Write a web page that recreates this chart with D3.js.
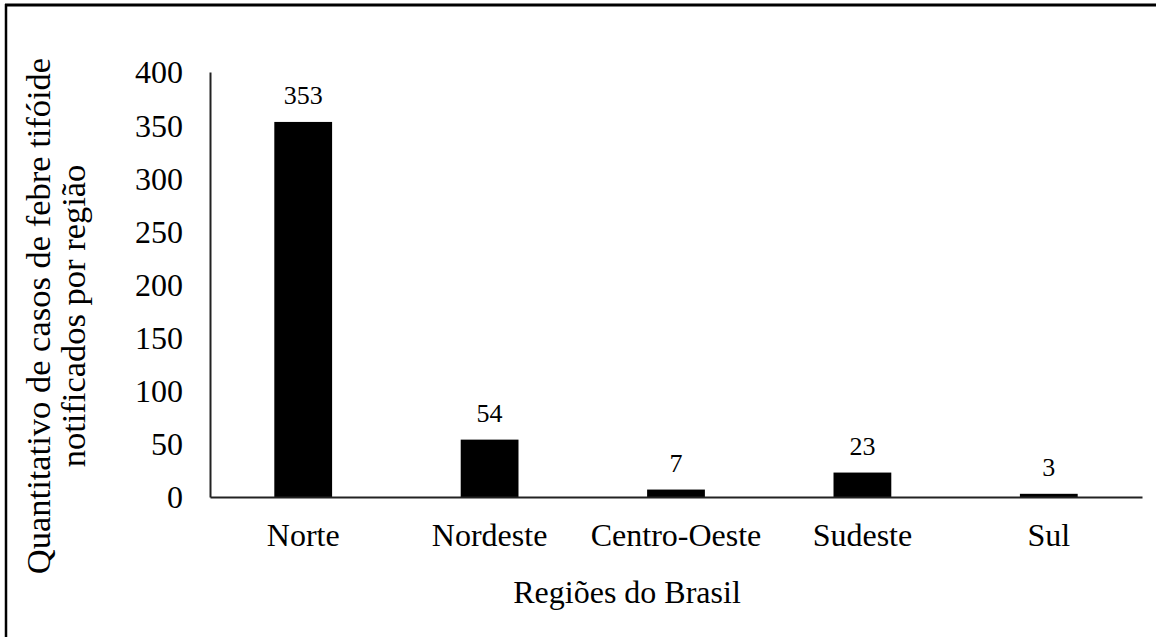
<!DOCTYPE html>
<html>
<head>
<meta charset="utf-8">
<script src="https://cdn.jsdelivr.net/npm/d3@7"></script>
<style>
  html, body { margin: 0; padding: 0; background: #fff; }
  svg text { font-family: "Liberation Serif", "Times New Roman", Times, Tinos, "DejaVu Serif", "Noto Serif", serif !important; fill: #000; }
</style>
</head>
<body>
<svg id="chart" width="1156" height="637"></svg>
<script>
// Notified typhoid fever cases by Brazilian region
const regions = ["Norte", "Nordeste", "Centro-Oeste", "Sudeste", "Sul"];
const cases = [353, 54, 7, 23, 3];
const yTicks = [0, 50, 100, 150, 200, 250, 300, 350, 400];
const yTitle = ["Quantitativo de casos de febre tifóide", "notificados por região"];
const xTitle = "Regiões do Brasil";

const svg = d3.select("#chart");
const W = 1156, H = 637;
const plot = { left: 210, right: 1142, top: 72, bottom: 497 };

// Figure frame (top and left rules)
svg.append("line").attr("x1", 5).attr("x2", W).attr("y1", 5).attr("y2", 5)
  .attr("stroke", "#000").attr("stroke-width", 3);
svg.append("line").attr("x1", 6).attr("x2", 6).attr("y1", 4).attr("y2", H)
  .attr("stroke", "#000").attr("stroke-width", 2.5);

const x = d3.scaleBand()
  .domain(regions)
  .range([plot.left, plot.right])
  .paddingInner(0.69)
  .paddingOuter(0.345);

const y = d3.scaleLinear()
  .domain([0, 400])
  .range([plot.bottom, plot.top]);

// Bars
svg.append("g").selectAll("rect")
  .data(regions)
  .join("rect")
  .attr("x", d => x(d))
  .attr("width", x.bandwidth())
  .attr("y", (d, i) => y(cases[i]))
  .attr("height", (d, i) => y(0) - y(cases[i]))
  .attr("fill", "#000");

// Value labels above bars
svg.append("g").selectAll("text")
  .data(regions)
  .join("text")
  .attr("x", d => x(d) + x.bandwidth() / 2)
  .attr("y", (d, i) => y(cases[i]) - 18)
  .attr("text-anchor", "middle")
  .attr("font-size", 26)
  .text((d, i) => cases[i]);

// Y axis
const yAxis = svg.append("g")
  .attr("transform", `translate(${plot.left},0)`)
  .call(d3.axisLeft(y).tickValues(yTicks).tickSize(0).tickSizeOuter(0).tickPadding(27));
yAxis.attr("font-family", null);
yAxis.select(".domain").attr("stroke", "#222").attr("stroke-width", 2);
yAxis.selectAll(".tick text")
  .attr("font-size", 32)
  .attr("dy", "0.34em");

// X axis
const xAxis = svg.append("g")
  .attr("transform", `translate(0,${plot.bottom})`)
  .call(d3.axisBottom(x).tickSize(0).tickSizeOuter(0));
xAxis.attr("font-family", null);
xAxis.select(".domain").attr("stroke", "#222").attr("stroke-width", 2);
xAxis.selectAll(".tick text")
  .attr("font-size", 32)
  .attr("y", 49)
  .attr("dy", 0);

// Axis titles
svg.append("text")
  .attr("x", 627).attr("y", 603)
  .attr("text-anchor", "middle")
  .attr("font-size", 32)
  .text(xTitle);

const yt = svg.append("text")
  .attr("transform", "translate(0,316) rotate(-90)")
  .attr("text-anchor", "middle")
  .attr("font-size", 34.5);
yTitle.forEach((line, i) => {
  yt.append("tspan").attr("x", 0).attr("y", 50 + i * 35).text(line);
});
</script>
</body>
</html>
